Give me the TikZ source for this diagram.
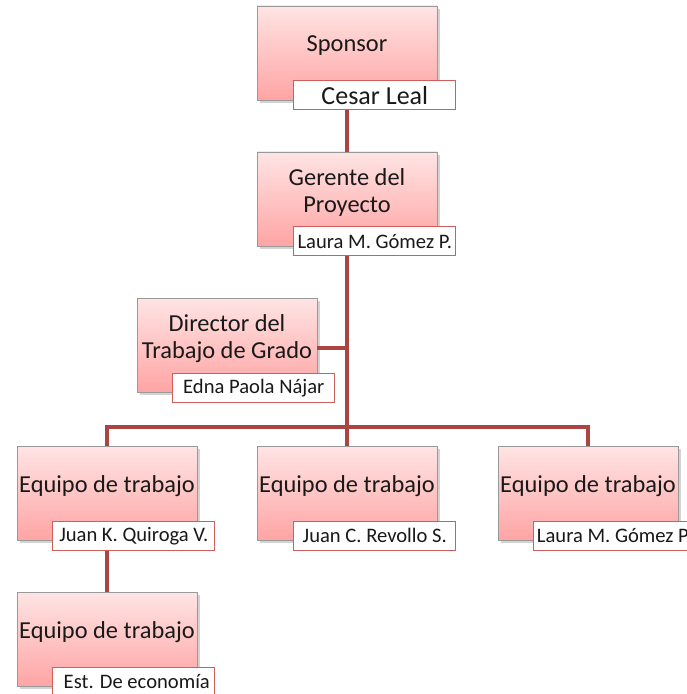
\documentclass[tikz,border=0pt]{standalone}
\usepackage{fontspec}
\setmainfont{Carlito}
\usetikzlibrary{calc,shadows}
\definecolor{linkred}{RGB}{172,68,66}
\definecolor{namered}{RGB}{205,95,93}
\definecolor{pinktop}{RGB}{255,228,228}
\definecolor{pinkbot}{RGB}{255,164,164}

\begin{document}
\begin{tikzpicture}[
  x=1pt, y=1pt,
  role/.style={rectangle, draw=black!40, line width=0.8pt,
    minimum width=180pt, minimum height=94pt,
    top color=pinktop, bottom color=pinkbot,
    drop shadow={shadow xshift=3pt, shadow yshift=-3pt, opacity=0.35}},
  roletext/.style={yshift=7pt, align=center, text=black!90,
    font=\fontsize{24.4}{27}\selectfont},
  nametag/.style={rectangle, draw=namered, fill=white, line width=1.2pt,
    minimum width=162pt, minimum height=29pt, inner sep=1pt, anchor=south east,
    text=black!90, font=\fontsize{20.6}{23}\selectfont},
  link/.style={draw=linkred, line width=4pt}
]
\clip (0,0) rectangle (687,694);

% role boxes
\node[role, label={[roletext]center:Sponsor}] (spo) at (347,641) {};
\node[role, label={[roletext]center:Gerente del\\Proyecto}] (ger) at (347,495) {};
\node[role, label={[roletext]center:Director del\\Trabajo de Grado}] (dir) at (227,348.5) {};
\node[role, label={[roletext]center:Equipo de trabajo}] (eq1) at (107,200.5) {};
\node[role, label={[roletext]center:Equipo de trabajo}] (eq2) at (347,200.5) {};
\node[role, label={[roletext]center:Equipo de trabajo}] (eq3) at (588,200.5) {};
\node[role, label={[roletext]center:Equipo de trabajo}] (eq4) at (107,54.5) {};

% name tags
\node[nametag, font=\fontsize{26}{28}\selectfont] (cesar) at ($(spo.south east)+(19,-10)$) {Cesar Leal};
\node[nametag] (laura) at ($(ger.south east)+(19,-10)$) {Laura M. Gómez P.};
\node[nametag] (edna) at ($(dir.south east)+(18,-10)$) {Edna Paola Nájar};
\node[nametag] (juank) at ($(eq1.south east)+(18,-10)$) {Juan K. Quiroga V.};
\node[nametag] (juanc) at ($(eq2.south east)+(19,-10)$) {Juan C. Revollo S.};
\node[nametag, anchor=south west] (laura2) at ($(eq3.south west)+(35,-10)$) {Laura M. Gómez P.};
\node[nametag] (est) at ($(eq4.south east)+(18,-10)$) {\hspace*{6pt}Est. De economía};

% connectors
\draw[link] (spo.center |- cesar.south) -- (ger.north);
\draw[link] (ger.center |- laura.south) -- (eq2.north);
\draw[link] ($(dir.east)+(0,-2.5)$) -- ($(dir.east -| ger.center)+(0,-2.5)$);
\draw[link] (eq1.north) -- ++(0,19) -| (eq3.north);
\draw[link] (eq1.center |- juank.south) -- (eq4.north);
\end{tikzpicture}
\end{document}
